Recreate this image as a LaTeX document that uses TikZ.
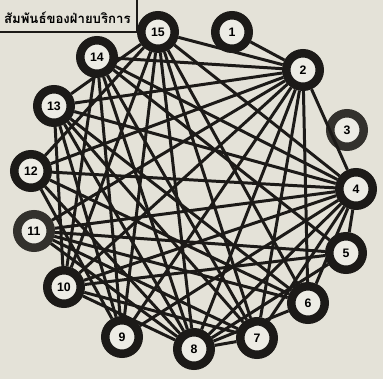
\documentclass[tikz,border=0pt]{standalone}
\usepackage{fontspec}
\newfontfamily\thaifont[Script=Thai]{Loma}
\newfontfamily\numfont{Liberation Sans}
\definecolor{paper}{HTML}{E4E2D8}
\definecolor{ink}{HTML}{1C1A18}
\definecolor{fadedink}{HTML}{33312D}
\definecolor{ringfill}{HTML}{EDECE5}

\tikzset{
  station/.style={circle,draw=#1,line width=0.17cm,fill=ringfill,minimum size=0.67cm,
    inner sep=0pt,font=\numfont\bfseries\fontsize{7}{8}\selectfont},
  link/.style={ink,line width=1.7pt},
  thaititle/.style={inner sep=0pt,font=\thaifont\bfseries\fontsize{7.5}{9}\selectfont}
}

\begin{document}
\begin{tikzpicture}[x=0.02cm,y=-0.02cm]
  \fill[paper] (0,0) rectangle (383,379);
  \useasboundingbox (0,0) rectangle (383,379);
  % title box, cut at the left edge
  \draw[ink,line width=1.1pt] (-6,-6) rectangle (137,32);
  \node[thaititle,anchor=east] (title) at (131,18) {สัมพันธ์ของฝ่ายบริการ};
  % stations round the circle
  \foreach \n/\x/\y/\c in {1/232/32/ink,2/303/70/ink,3/347/130/fadedink,4/356/189/ink,
      5/346/253/ink,6/308/303/ink,7/257/338/ink,8/194/349/ink,9/122/337/ink,
      10/64/287/ink,11/34/231/fadedink,12/31/171/ink,13/54/106/ink,14/97/57/ink,15/158/32/ink}{
    \node[station=\c] (s\n) at (\x,\y) {\n};
  }
  \foreach \a/\b in {1/2,
      15/2,15/4,15/6,15/7,15/8,15/9,15/10,15/12,15/13,
      14/2,14/4,14/5,14/7,14/8,14/9,14/10,
      13/2,13/4,13/6,13/7,13/8,13/9,13/10,
      12/2,12/4,12/6,12/8,12/9,
      11/2,11/4,11/5,11/6,11/7,11/8,
      10/2,10/4,10/5,10/7,10/8,
      9/2,9/4,8/2,8/4,8/5,8/6,8/7,7/2,7/4,6/2,6/4,5/4,2/4}{
    \draw[link] (s\a) -- (s\b);
  }
\end{tikzpicture}
\end{document}
